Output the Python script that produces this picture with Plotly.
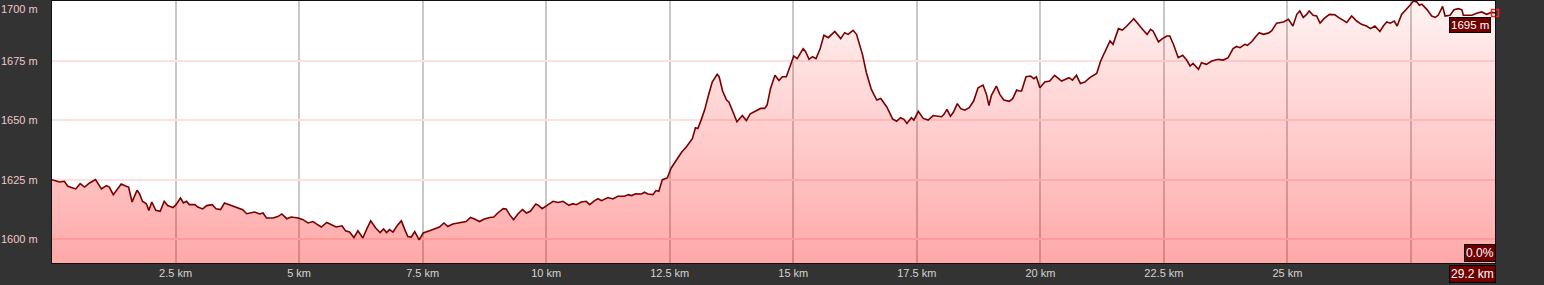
import plotly.graph_objects as go

# distance (km) and elevation (m)
dist_km = [0.0, 0.15, 0.25, 0.32, 0.48, 0.57, 0.66, 0.76, 0.88, 1.00, 1.10, 1.16, 1.24, 1.33, 1.40, 1.50, 1.55, 1.62, 1.72, 1.77,
           1.83, 1.91, 1.96, 2.02, 2.10, 2.19, 2.27, 2.34, 2.45, 2.51, 2.60, 2.66, 2.72, 2.78, 2.89, 2.95, 3.05, 3.13, 3.24, 3.32,
           3.41, 3.49, 3.59, 3.69, 3.80, 3.86, 3.94, 4.03, 4.10, 4.20, 4.27, 4.34, 4.47, 4.57, 4.65, 4.75, 4.84, 4.98,
           5.08, 5.18, 5.28, 5.35, 5.45, 5.56, 5.65, 5.75, 5.87, 5.94, 6.02, 6.11, 6.19, 6.29, 6.37, 6.45, 6.55, 6.64, 6.71, 6.77,
           6.83, 6.90, 7.00, 7.07, 7.14, 7.20, 7.27, 7.34, 7.43, 7.51, 7.64, 7.78, 7.84, 7.93, 8.01, 8.11, 8.21, 8.32, 8.38, 8.47,
           8.55, 8.65, 8.75, 8.86, 8.94, 9.02, 9.13, 9.19, 9.26, 9.34, 9.43, 9.52, 9.60, 9.68, 9.79, 9.85,
           9.92, 10.04, 10.14, 10.24, 10.34, 10.46, 10.54, 10.61, 10.71, 10.81, 10.88, 10.98, 11.05, 11.12, 11.25, 11.35, 11.45,
           11.59, 11.66, 11.73, 11.81, 11.93, 11.99, 12.06, 12.16, 12.22, 12.28, 12.35, 12.45, 12.53, 12.64, 12.74, 12.84, 12.96,
           13.02, 13.07, 13.14, 13.21, 13.28, 13.36, 13.46, 13.50, 13.57, 13.65, 13.70, 13.78, 13.86, 13.97, 14.05, 14.13, 14.26,
           14.34, 14.42, 14.47, 14.54, 14.63, 14.71,
           14.78, 14.86, 15.01, 15.08, 15.20, 15.25, 15.32, 15.39, 15.46, 15.54, 15.62, 15.71, 15.84, 15.96, 16.04, 16.11, 16.21,
           16.28, 16.40, 16.48, 16.58, 16.69, 16.77, 16.89, 17.01, 17.09, 17.17, 17.24, 17.30, 17.39, 17.44, 17.53, 17.63, 17.73,
           17.83, 17.93, 18.00, 18.05, 18.11, 18.18, 18.24, 18.32, 18.39, 18.47, 18.56, 18.65, 18.74, 18.84, 18.91, 18.96, 19.01,
           19.11, 19.18, 19.26, 19.37, 19.44, 19.52, 19.57,
           19.62, 19.71, 19.80, 19.87, 19.92, 19.99, 20.09, 20.19, 20.29, 20.43, 20.52, 20.58, 20.65, 20.73, 20.81, 20.90, 21.00,
           21.14, 21.22, 21.33, 21.41, 21.47, 21.58, 21.66, 21.75, 21.89, 21.98, 22.08, 22.16, 22.23, 22.28, 22.39, 22.47, 22.56,
           22.62, 22.70, 22.79, 22.88, 22.96, 23.03, 23.09, 23.20, 23.26, 23.36, 23.47, 23.60, 23.70, 23.80, 23.90, 23.97, 24.04,
           24.14, 24.19, 24.28, 24.36, 24.43,
           24.51, 24.61, 24.68, 24.78, 24.92, 25.02, 25.11, 25.19, 25.25, 25.32, 25.39, 25.44, 25.52, 25.59, 25.66, 25.74, 25.85,
           25.96, 26.03, 26.13, 26.20, 26.30, 26.40, 26.50, 26.60, 26.68, 26.77, 26.87, 26.94, 27.01, 27.08, 27.16, 27.22, 27.31,
           27.41, 27.48, 27.55, 27.62, 27.67, 27.72, 27.82, 27.92, 27.99, 28.05, 28.14, 28.19, 28.29, 28.37, 28.46, 28.53, 28.56,
           28.73, 28.83, 28.93, 29.03, 29.13, 29.2]

elev_m = [1625.0, 1624.0, 1624.3, 1622.2, 1621.1, 1623.3, 1621.9, 1623.6, 1625.0, 1621.1, 1622.5, 1621.9, 1618.7, 1621.5, 1623.2, 1622.2, 1621.9, 1615.6, 1620.5, 1619.1,
          1615.9, 1614.9, 1612.1, 1615.6, 1612.1, 1611.7, 1615.9, 1614.1, 1613.3, 1614.5, 1617.3, 1615.2, 1615.9, 1614.5, 1614.5, 1613.5, 1612.7, 1614.1, 1614.5, 1612.8,
          1612.4, 1615.2, 1614.5, 1613.8, 1613.1, 1612.4, 1610.7, 1611.0, 1611.4, 1610.6, 1611.0, 1608.9, 1608.9, 1609.5, 1610.6, 1608.6, 1609.3, 1608.9,
          1608.2, 1606.8, 1607.4, 1606.4, 1605.1, 1607.0, 1606.1, 1605.1, 1605.6, 1603.5, 1603.0, 1600.7, 1603.5, 1600.5, 1604.3, 1607.7, 1604.7, 1602.8, 1604.3, 1602.8,
          1604.0, 1603.0, 1606.1, 1607.7, 1604.0, 1601.1, 1600.9, 1603.2, 1599.7, 1602.6, 1603.5, 1604.4, 1605.1, 1606.8, 1605.3, 1606.4, 1606.8, 1607.4, 1607.4, 1609.1,
          1608.5, 1607.4, 1608.5, 1609.1, 1609.3, 1611.0, 1612.8, 1612.7, 1610.3, 1608.2, 1610.7, 1612.4, 1611.0, 1611.7, 1614.8, 1614.1,
          1612.8, 1614.5, 1615.9, 1615.4, 1615.9, 1614.2, 1614.9, 1614.5, 1615.6, 1615.9, 1614.5, 1616.2, 1617.0, 1616.2, 1617.5, 1616.9, 1618.0,
          1618.0, 1618.7, 1618.3, 1619.1, 1619.0, 1619.7, 1619.0, 1618.7, 1620.4, 1620.1, 1625.0, 1625.7, 1629.9, 1633.4, 1636.5, 1638.8, 1642.3,
          1646.8, 1646.5, 1650.3, 1654.5, 1660.1, 1666.0, 1669.2, 1668.2, 1662.2, 1658.4, 1657.5, 1653.1, 1649.3, 1651.9, 1649.8, 1652.6, 1654.2,
          1654.9, 1654.9, 1656.3, 1663.3, 1668.8, 1666.6,
          1668.2, 1668.2, 1676.9, 1675.8, 1680.0, 1678.7, 1675.5, 1676.6, 1675.8, 1679.7, 1685.6, 1684.6, 1687.2, 1684.2, 1686.7, 1686.0, 1687.7,
          1686.0, 1677.6, 1669.9, 1662.9, 1658.4, 1659.1, 1655.6, 1650.5, 1649.5, 1651.0, 1650.3, 1648.6, 1651.0, 1650.0, 1653.7, 1650.7, 1650.0,
          1651.9, 1651.6, 1651.4, 1652.4, 1654.5, 1651.6, 1653.3, 1656.9, 1654.8, 1654.2, 1655.2, 1658.0, 1663.6, 1664.7, 1660.8, 1656.1, 1660.4,
          1664.3, 1660.8, 1658.4, 1657.9, 1659.0, 1662.6, 1662.2,
          1662.2, 1668.2, 1668.5, 1667.4, 1668.2, 1663.6, 1666.0, 1666.4, 1668.8, 1666.4, 1667.1, 1667.8, 1666.8, 1668.8, 1665.4, 1666.0, 1667.8,
          1669.6, 1674.8, 1679.7, 1683.2, 1681.8, 1688.4, 1687.8, 1689.5, 1692.6, 1690.2, 1687.8, 1686.0, 1688.1, 1687.4, 1682.8, 1684.2, 1685.3,
          1685.3, 1681.4, 1676.2, 1677.2, 1675.2, 1672.7, 1673.8, 1671.3, 1674.1, 1673.4, 1674.8, 1675.5, 1675.2, 1676.2, 1680.0, 1680.9, 1680.4,
          1681.8, 1681.4, 1683.0, 1685.1, 1686.7,
          1686.0, 1686.5, 1687.4, 1690.7, 1691.2, 1692.3, 1689.5, 1694.4, 1695.8, 1693.1, 1694.4, 1695.8, 1694.0, 1693.7, 1690.7, 1692.6, 1694.4,
          1694.2, 1693.1, 1692.0, 1691.0, 1693.7, 1691.6, 1690.2, 1689.5, 1688.4, 1689.5, 1687.2, 1689.5, 1691.2, 1690.7, 1691.6, 1689.5, 1694.4,
          1696.5, 1698.2, 1700.0, 1699.6, 1698.2, 1698.7, 1696.5, 1693.7, 1693.1, 1694.0, 1697.7, 1693.7, 1694.0, 1696.3, 1696.8, 1696.3, 1694.0,
          1694.0, 1694.9, 1695.4, 1694.4, 1695.2, 1695.0]

x_ticks = [2.5, 5, 7.5, 10, 12.5, 15, 17.5, 20, 22.5, 25, 27.5]
x_tick_text = ["2.5 km", "5 km", "7.5 km", "10 km", "12.5 km", "15 km", "17.5 km", "20 km", "22.5 km", "25 km", ""]
y_ticks = [1600, 1625, 1650, 1675, 1700]
y_tick_text = ["1600 m", "1625 m", "1650 m", "1675 m", "1700 m"]

total_km = 29.2
end_elev = 1695
end_elev_text = "1695 m"
grade_text = "0.0%"
total_text = "29.2 km"

FONT = "Liberation Sans, Arial, sans-serif"

fig = go.Figure()
fig.add_trace(go.Scatter(
    x=dist_km, y=elev_m, mode="lines",
    line=dict(color="#7a0000", width=1.6),
    fill="tozeroy",
    fillgradient=dict(type="vertical",
                      colorscale=[[0, "rgba(255,0,0,0.34)"], [1, "rgba(255,0,0,0.05)"]],
                      start=1590, stop=1700),
    hoverinfo="skip", showlegend=False,
))
fig.add_trace(go.Scatter(
    x=[dist_km[-1]], y=[elev_m[-1]], mode="markers",
    marker=dict(symbol="square-open", size=7, color="#ff2020", line=dict(width=1.5, color="#ff2020")),
    cliponaxis=False, showlegend=False, hoverinfo="skip",
))

annotations = []
for v, t in zip(y_ticks, y_tick_text):
    annotations.append(dict(
        xref="paper", x=0, yref="y", y=v, text=t, showarrow=False,
        xanchor="right", yanchor="top" if v == 1700 else "middle",
        xshift=-12, yshift=0,
        font=dict(family=FONT, size=11, color="#f0c8c8"),
    ))
box = dict(bgcolor="#700000", bordercolor="#000000", borderwidth=1, borderpad=1,
           showarrow=False)
annotations.append(dict(xref="x", x=total_km, yref="y", y=end_elev, text=end_elev_text,
                        xanchor="right", yanchor="top", xshift=-4, yshift=-4,
                        font=dict(family=FONT, size=11.5, color="#ffffff"), **box))
annotations.append(dict(xref="paper", x=1, yref="paper", y=0, text=grade_text,
                        xanchor="right", yanchor="bottom", xshift=1, yshift=1,
                        font=dict(family=FONT, size=12, color="#ffffff"), **box))
annotations.append(dict(xref="paper", x=1, yref="paper", y=0, text=total_text,
                        xanchor="right", yanchor="top", xshift=1, yshift=-2,
                        font=dict(family=FONT, size=12, color="#ffffff"), **box))

fig.update_layout(
    width=1544, height=285,
    margin=dict(l=52, r=49, t=1, b=22),
    paper_bgcolor="#333333",
    plot_bgcolor="#ffffff",
    annotations=annotations,
    xaxis=dict(range=[0, total_km], tickvals=x_ticks, ticktext=x_tick_text,
               showgrid=True, gridcolor="#c8c8c8", gridwidth=2,
               zeroline=False, showline=True, mirror=True, linecolor="#111111", linewidth=1,
               ticks="", tickfont=dict(family=FONT, size=11, color="#d4d4d4")),
    yaxis=dict(range=[1590, 1700], tickvals=y_ticks, showticklabels=False,
               showgrid=True, gridcolor="#ffe0e0", gridwidth=2,
               zeroline=False, showline=True, mirror=True, linecolor="#111111", linewidth=1,
               ticks=""),
)

fig.write_html("out.html")
